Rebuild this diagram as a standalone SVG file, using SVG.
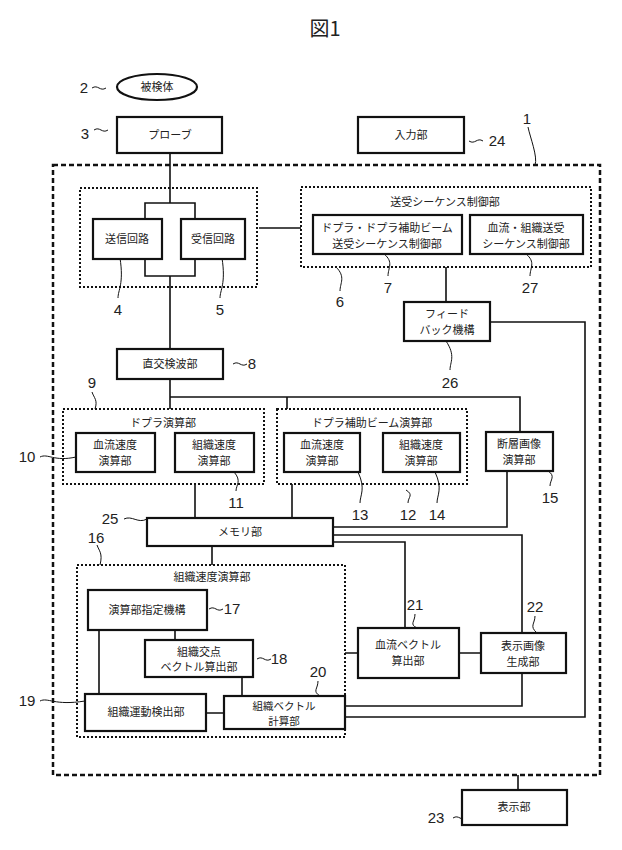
<svg xmlns="http://www.w3.org/2000/svg" width="622" height="850" viewBox="0 0 622 850">
<style>
.b{fill:#fff;stroke:#111;stroke-width:2.2}
.g{fill:none;stroke:#111;stroke-width:2;stroke-dasharray:2 2}
.o{fill:none;stroke:#111;stroke-width:2.5;stroke-dasharray:5 3}
.l{fill:none;stroke:#111;stroke-width:1.6}
.s{fill:none;stroke:#111;stroke-width:1}
text{font-family:"Noto Sans CJK JP","Noto Sans",sans-serif;fill:#222;text-anchor:middle}
.t{font-size:11px}
.n{font-size:15px;font-family:"Liberation Sans","Noto Sans",sans-serif}
</style>
<rect width="622" height="850" fill="#fff"/>
<text x="325" y="36" font-size="20">図1</text>
<g id="connectors">
<path class="l" d="M170 153V203M170 276V349M170 379V409M170 397H520V432M287 397V409M259 228H301M446 267V302M490 322H585V717H345M195 484V518M292 484V518M507 471V527H333M333 535H522V633M333 542H405V628M212 546V565M99 630V694M175 630V640M242 677V696M206 713H224M345 653H358M459 653H481M522 673V706H345M518 775V790"/>
<path class="l" d="M145 203H195V276H145Z"/>
<path class="s" d="M92 88c6-4 8 4 14 0M94 130c6-4 8 4 14 0M483 141c-6-4-8 4-14 0M528 127c2 10 10 30 7 38M233 364c6-4 8 4 14 0M118 298c0-8 6-14 2-40M220 298c0-8 6-14 2-40M340 291c0-8 6-14-4-24M388 276c0-8 6-14-4-22M530 276c0-8 6-14-4-22M450 370c0-8 6-14-4-29M92 392c2 6 6 8 3 17M40 457c8-4 14 5 36 0M236 491c0-6 6-10-2-19M360 503c0-8 6-14-2-31M408 503c0-6 6-8-2-13M437 503c0-8 6-14-2-31M550 486c0-6 6-10-2-15M124 519c8-4 14 5 23 0M97 545c2 6 6 8 3 20M209 609c6-4 8 4 14 0M257 659c6-4 8 4 14 0M318 681c0 8-6 10 2 15M415 614c0 8-6 10 2 14M535 616c0 8-6 10 2 17M40 701c8-4 14 5 45 0M453 818c6-4 8 4 14 0"/>
</g>
<rect class="o" x="53" y="165" width="547" height="610"/>
<g id="n2"><ellipse cx="157" cy="87" rx="40" ry="13" class="b"/><text class="t" x="157" y="91">被検体</text><text class="n" x="84" y="93">2</text></g>
<g id="n3"><rect class="b" x="117" y="117" width="105" height="36"/><text class="t" x="170" y="139">プローブ</text><text class="n" x="85" y="139">3</text></g>
<g id="n24"><rect class="b" x="358" y="117" width="106" height="36"/><text class="t" x="411" y="139">入力部</text><text class="n" x="497" y="146">24</text></g>
<text class="n" x="527" y="124">1</text>
<g id="g45"><rect class="g" x="80" y="188" width="177" height="99"/></g>
<g id="n4"><rect class="b" x="93" y="219" width="69" height="40"/><text class="t" x="127" y="243">送信回路</text><text class="n" x="118" y="315">4</text></g>
<g id="n5"><rect class="b" x="181" y="219" width="64" height="40"/><text class="t" x="213" y="243">受信回路</text><text class="n" x="220" y="315">5</text></g>
<g id="n6"><rect class="g" x="301" y="187" width="290" height="80"/><text class="t" x="445" y="206">送受シーケンス制御部</text><text class="n" x="340" y="307">6</text></g>
<g id="n7"><rect class="b" x="313" y="215" width="149" height="39"/><text class="t" x="387" y="232">ドプラ・ドプラ補助ビーム</text><text class="t" x="387" y="248">送受シーケンス制御部</text><text class="n" x="388" y="293">7</text></g>
<g id="n27"><rect class="b" x="470" y="215" width="113" height="39"/><text class="t" x="526" y="232">血流・組織送受</text><text class="t" x="526" y="248">シーケンス制御部</text><text class="n" x="530" y="293">27</text></g>
<g id="n26"><rect class="b" x="404" y="302" width="86" height="39"/><text class="t" x="447" y="318">フィード</text><text class="t" x="447" y="334">バック機構</text><text class="n" x="450" y="388">26</text></g>
<g id="n8"><rect class="b" x="117" y="349" width="106" height="30"/><text class="t" x="170" y="368">直交検波部</text><text class="n" x="252" y="369">8</text></g>
<g id="n9"><rect class="g" x="63" y="409" width="201" height="75"/><text class="t" x="163" y="427">ドプラ演算部</text><text class="n" x="92" y="388">9</text></g>
<g id="n10"><rect class="b" x="76" y="433" width="79" height="39"/><text class="t" x="115" y="449">血流速度</text><text class="t" x="115" y="465">演算部</text><text class="n" x="27" y="462">10</text></g>
<g id="n11"><rect class="b" x="175" y="433" width="79" height="39"/><text class="t" x="214" y="449">組織速度</text><text class="t" x="214" y="465">演算部</text><text class="n" x="236" y="508">11</text></g>
<g id="n12"><rect class="g" x="277" y="409" width="190" height="75"/><text class="t" x="372" y="427">ドプラ補助ビーム演算部</text><text class="n" x="408" y="520">12</text></g>
<g id="n13"><rect class="b" x="284" y="433" width="76" height="39"/><text class="t" x="322" y="449">血流速度</text><text class="t" x="322" y="465">演算部</text><text class="n" x="360" y="520">13</text></g>
<g id="n14"><rect class="b" x="383" y="433" width="77" height="39"/><text class="t" x="421" y="449">組織速度</text><text class="t" x="421" y="465">演算部</text><text class="n" x="437" y="520">14</text></g>
<g id="n15"><rect class="b" x="486" y="432" width="67" height="39"/><text class="t" x="519" y="448">断層画像</text><text class="t" x="519" y="464">演算部</text><text class="n" x="550" y="503">15</text></g>
<g id="n25"><rect class="b" x="147" y="518" width="186" height="28"/><text class="t" x="240" y="536">メモリ部</text><text class="n" x="110" y="524">25</text></g>
<g id="n16"><rect class="g" x="77" y="565" width="268" height="172"/><text class="t" x="212" y="581">組織速度演算部</text><text class="n" x="96" y="543">16</text></g>
<g id="n17"><rect class="b" x="88" y="590" width="119" height="40"/><text class="t" x="147" y="614">演算部指定機構</text><text class="n" x="232" y="614">17</text></g>
<g id="n18"><rect class="b" x="145" y="640" width="108" height="37"/><text class="t" x="199" y="656">組織交点</text><text class="t" x="199" y="671">ベクトル算出部</text><text class="n" x="279" y="664">18</text></g>
<g id="n19"><rect class="b" x="85" y="694" width="121" height="37"/><text class="t" x="146" y="716">組織運動検出部</text><text class="n" x="27" y="706">19</text></g>
<g id="n20"><rect class="b" x="224" y="696" width="121" height="33"/><text x="284" y="710" font-size="10.5">組織ベクトル</text><text x="284" y="725" font-size="10.5">計算部</text><text class="n" x="318" y="677">20</text></g>
<g id="n21"><rect class="b" x="358" y="628" width="101" height="50"/><text class="t" x="408" y="649">血流ベクトル</text><text class="t" x="408" y="665">算出部</text><text class="n" x="415" y="610">21</text></g>
<g id="n22"><rect class="b" x="481" y="633" width="85" height="40"/><text class="t" x="523" y="650">表示画像</text><text class="t" x="523" y="666">生成部</text><text class="n" x="535" y="612">22</text></g>
<g id="n23"><rect class="b" x="462" y="790" width="105" height="35"/><text class="t" x="514" y="811">表示部</text><text class="n" x="436" y="823">23</text></g>
</svg>
